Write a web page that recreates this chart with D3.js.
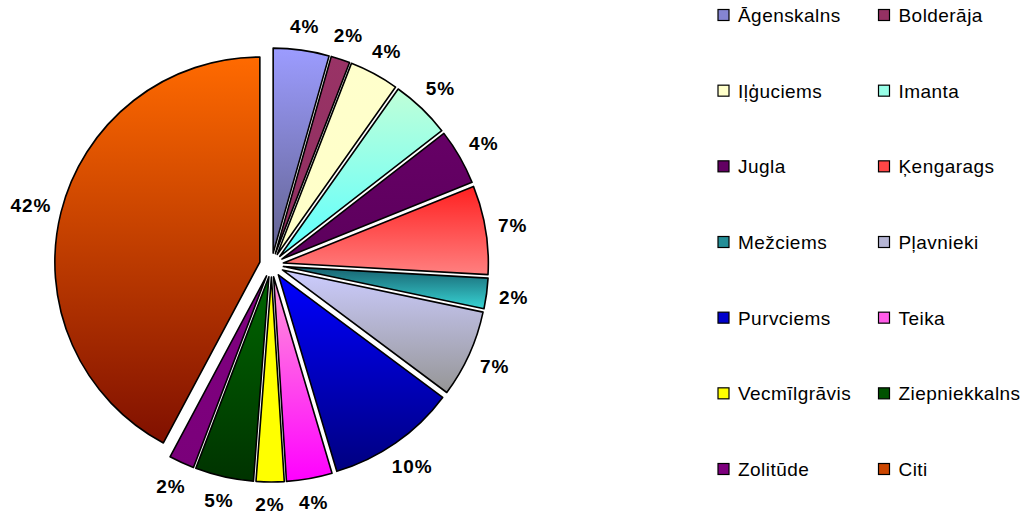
<!DOCTYPE html>
<html><head><meta charset="utf-8">
<script src="https://cdn.jsdelivr.net/npm/d3@7"></script>
<style>body{margin:0;background:#fff}svg{display:block}</style>
</head><body>
<script>
const categories = ["Āgenskalns","Bolderāja","Iļģuciems","Imanta","Jugla","Ķengarags","Mežciems","Pļavnieki","Purvciems","Teika","Vecmīlgrāvis","Ziepniekkalns","Zolitūde","Citi"];
const values = [4.4,1.5,3.9,4.7,4.4,7.0,2.4,6.9,10.2,3.6,2.2,4.6,2.0,42.2];
const topColors = ["#9c9cff","#993366","#ffffcc","#c0ffd8","#660066","#ff2020","#17606e","#ccccff","#0000ff","#ff99d8","#ffff00","#006600","#800080","#ff6a00"];
const bottomColors = ["#62628f","#8f2f5f","#ffffc8","#5cffff","#5c005c","#ff8080","#38d4d4","#969696","#000080","#ff00ff","#ffff00","#003300","#7a007a","#801000"];

const W = 1032, H = 515;
const cx = 271.5, cy = 265, R = 205, explode = 12;

const svg = d3.select("body").append("svg").attr("width", W).attr("height", H);
const defs = svg.append("defs");
categories.forEach((c, i) => {
  const g = defs.append("linearGradient").attr("id", "g" + i)
    .attr("x1", 0).attr("y1", 0).attr("x2", 0).attr("y2", 1);
  g.append("stop").attr("offset", 0).attr("stop-color", topColors[i]);
  g.append("stop").attr("offset", 1).attr("stop-color", bottomColors[i]);
});

const total = d3.sum(values);
const pie = d3.pie().sort(null).value(d => d);
const arcs = pie(values);
const arc = d3.arc().innerRadius(0).outerRadius(R);

const pieG = svg.append("g").attr("transform", `translate(${cx},${cy})`);
pieG.selectAll("path").data(arcs).join("path")
  .attr("transform", d => {
    const m = (d.startAngle + d.endAngle) / 2;
    return `translate(${explode * Math.sin(m)},${-explode * Math.cos(m)})`;
  })
  .attr("d", arc)
  .attr("fill", (d, i) => `url(#g${i})`)
  .attr("stroke", "#000")
  .attr("stroke-width", 1.6)
  .attr("stroke-linejoin", "round");

const lbl = pieG.selectAll("text").data(arcs).join("text")
  .attr("font-family", "Liberation Sans, Arial, sans-serif")
  .attr("font-weight", "bold")
  .attr("font-size", 19)
  .attr("letter-spacing", 1)
  .attr("text-anchor", "middle")
  .attr("dy", "0.36em")
  .attr("fill", "#000")
  .text(d => Math.round(d.value / total * 100) + "%");
lbl.each(function(d) {
  const w = this.getComputedTextLength(), h = 15;
  const m = (d.startAngle + d.endAngle) / 2;
  const r = 235 + 0.6 * (Math.abs(w / 2 * Math.sin(m)) + Math.abs(h / 2 * Math.cos(m)));
  d3.select(this).attr("x", r * Math.sin(m)).attr("y", -r * Math.cos(m));
});

// legend
const rows = d3.scalePoint().domain(d3.range(7)).range([15, 469]);
const cols = d3.scalePoint().domain([0, 1]).range([718, 878.5]);
const leg = svg.append("g").selectAll("g").data(categories).join("g")
  .attr("transform", (d, i) => `translate(${cols(i % 2)},${rows(Math.floor(i / 2))})`);
leg.append("rect")
  .attr("x", 0).attr("y", -5.5).attr("width", 11).attr("height", 11)
  .attr("fill", (d, i) => d3.interpolateRgb(topColors[i], bottomColors[i])(0.4))
  .attr("stroke", "#000").attr("stroke-width", 1.2);
leg.append("text")
  .attr("x", 20).attr("dy", "0.36em")
  .attr("font-family", "Liberation Sans, Arial, sans-serif")
  .attr("font-size", 19)
  .attr("letter-spacing", 0.45)
  .attr("fill", "#000")
  .text(d => d);
</script>
</body></html>
